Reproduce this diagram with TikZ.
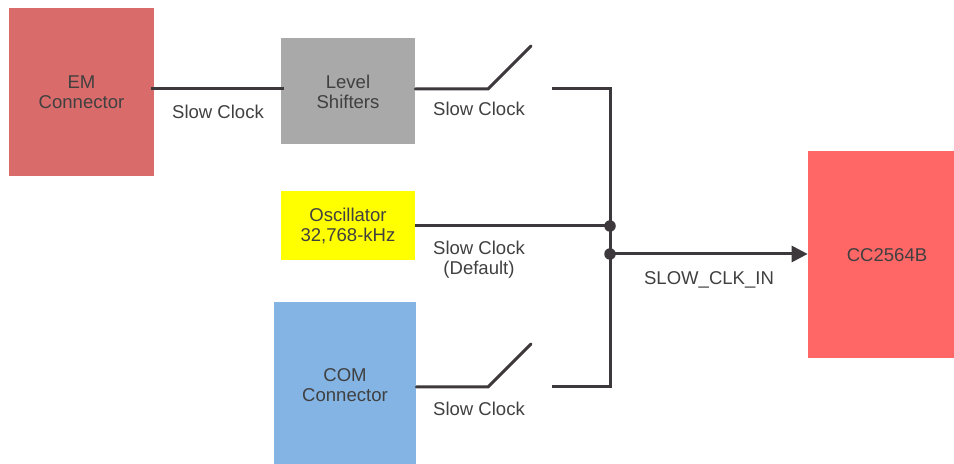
\documentclass[tikz,border=0pt]{standalone}
\usepackage{fontspec}
\setmainfont{Liberation Sans}
\usetikzlibrary{arrows.meta}
\definecolor{wire}{HTML}{3D383B}
\definecolor{txt}{HTML}{404040}
\definecolor{emred}{RGB}{217,107,107}
\definecolor{levelgray}{RGB}{169,169,169}
\definecolor{oscyellow}{RGB}{255,255,0}
\definecolor{comblue}{RGB}{131,180,228}
\definecolor{ccred}{RGB}{255,102,102}

\begin{document}
\begin{tikzpicture}[
    box/.style = {inner sep=0pt, align=center, text=txt},
    lbl/.style = {inner sep=0pt, align=center, text=txt},
    ar/.style = {wire, line width=0.06cm},
    dot/.style = {circle, fill=wire, inner sep=0pt, minimum size=0.23cm},
    every node/.append style = {font=\fontsize{10.55}{11.4}\selectfont}]
        \useasboundingbox (0,0) rectangle (19.08,9.28);

        \node[box, fill=emred, minimum width=2.9cm, minimum height=3.36cm] (em) at (1.63,7.44) {EM\\Connector};
        \node[box, fill=levelgray, minimum width=2.68cm, minimum height=2.12cm, label={[lbl, yshift=-0.02cm]center:Level\\Shifters}] (level) at (6.96,7.46) {};
        \node[box, fill=oscyellow, minimum width=2.68cm, minimum height=1.38cm] (osc) at (6.96,4.77) {Oscillator\\32,768-kHz};
        \node[box, fill=comblue, minimum width=2.84cm, minimum height=3.24cm, label={[lbl, yshift=-0.04cm]center:COM\\Connector}] (com) at (6.9,1.62) {};
        \node[box, fill=ccred, minimum width=2.92cm, minimum height=4.14cm, label={[lbl, xshift=0.12cm, yshift=-0.02cm]center:CC2564B}] (cc) at (17.62,4.19) {};

        \node[lbl] (l1) at (4.36,7.05) {Slow Clock};
        \node[lbl] (l2) at (9.58,7.1) {Slow Clock};
        \node[lbl] (l3) at (9.58,4.08) {Slow Clock\\(Default)};
        \node[lbl] (l4) at (9.58,1.1) {Slow Clock};
        \node[lbl] (l5) at (14.18,3.69) {SLOW\_CLK\_IN};

        \coordinate (sw1a) at (9.76,7.5);
        \coordinate (sw1b) at (10.62,8.36);
        \coordinate (sw1c) at (11.04,7.5);
        \coordinate (top) at (12.2,7.5);
        \coordinate (sw2a) at (9.76,1.54);
        \coordinate (sw2b) at (10.62,2.4);
        \coordinate (sw2c) at (11.04,1.54);
        \coordinate (bot) at (12.2,1.54);
        \node[dot] (j1) at (12.2,4.76) {};
        \node[dot] (j2) at (12.2,4.2) {};

        \draw[ar] ([xshift=-0.06cm]em.east |- sw1a) -- ([xshift=0.06cm]level.west |- sw1a);
        \draw[ar, line cap=round] (level.east |- sw1a) -- (sw1a) -- (sw1b);
        \draw[ar] (sw1c) -- (top) -- (bot) -- (sw2c);
        \draw[ar, line cap=round] (com.east |- sw2a) -- (sw2a) -- (sw2b);
        \draw[ar] (osc.east |- j1) -- (j1.center);
        \draw[ar, -{Triangle[length=0.32cm, width=0.32cm]}] (j2.center) -- (cc.west |- j2);
\end{tikzpicture}
\end{document}
